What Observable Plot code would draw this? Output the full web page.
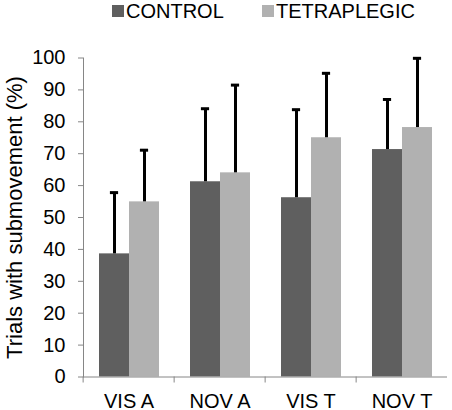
<!DOCTYPE html>
<html>
<head>
<meta charset="utf-8">
<script src="https://cdn.jsdelivr.net/npm/d3@7"></script>
<script src="https://cdn.jsdelivr.net/npm/@observablehq/plot@0.6"></script>
<style>
  body { margin: 0; background: #fff; font-family: "Liberation Sans", Arial, sans-serif; }
  #legend { position: relative; width: 452px; height: 30px; }
  .item { position: absolute; top: -1px; display: flex; align-items: center; font-size: 20px; line-height: 24px; color: #000; white-space: nowrap; }
  .sw { width: 12px; height: 12px; margin-right: 2px; }
</style>
</head>
<body>
<div id="legend"></div>
<div id="chart"></div>
<script>
const categories = ["VIS A", "NOV A", "VIS T", "NOV T"];
const groups = ["CONTROL", "TETRAPLEGIC"];
const controlMeans = [38.6, 61.2, 56.2, 71.3];
const controlSD = [19.2, 22.9, 27.6, 15.7];
const tetraMeans = [54.9, 64.0, 75.0, 78.2];
const tetraSD = [16.2, 27.5, 20.2, 21.7];
const yTicks = [0, 10, 20, 30, 40, 50, 60, 70, 80, 90, 100];
const colors = ["#5f5f5f", "#b1b1b1"];
const yLabel = "Trials with submovement (%)";

const data = categories.flatMap((c, i) => [
  {category: c, group: groups[0], value: controlMeans[i], sd: controlSD[i]},
  {category: c, group: groups[1], value: tetraMeans[i], sd: tetraSD[i]}
]);

// legend
const legend = document.getElementById("legend");
const legendX = [112, 262];
groups.forEach((g, i) => {
  const it = document.createElement("div");
  it.className = "item";
  it.style.left = legendX[i] + "px";
  const sw = document.createElement("span");
  sw.className = "sw";
  sw.style.background = colors[i];
  const tx = document.createElement("span");
  tx.textContent = g;
  it.appendChild(sw);
  it.appendChild(tx);
  legend.appendChild(it);
});

const axisGray = "#868686";
const bandHalf = (452 - 81 - 4) / categories.length / 2;

const chart = Plot.plot({
  width: 452,
  height: 380,
  marginTop: 27.5,
  marginBottom: 33.5,
  marginLeft: 81,
  marginRight: 4,
  style: {fontFamily: "Liberation Sans, Arial, sans-serif", fontSize: "20px", color: "#000", background: "#fff"},
  fx: {domain: categories, padding: 0, label: null, axis: null},
  x: {domain: groups, paddingInner: 0, paddingOuter: 0.49, axis: null},
  y: {domain: [0, 100], label: null, axis: null},
  color: {domain: groups, range: colors},
  marks: [
    Plot.barY(data, {fx: "category", x: "group", y: "value", fill: "group"}),
    Plot.ruleX(data, {fx: "category", x: "group", y1: "value", y2: d => d.value + d.sd, stroke: "#000", strokeWidth: 3}),
    Plot.tickY(data, {fx: "category", x: "group", y: d => d.value + d.sd, stroke: "#000", strokeWidth: 3, inset: 10.9}),
    Plot.ruleY([0], {stroke: axisGray, strokeWidth: 1}),
    Plot.frame({anchor: "left", facetAnchor: "left", stroke: axisGray}),
    Plot.axisY({ticks: yTicks, tickSize: 5, tickPadding: 13, stroke: axisGray, fill: "#000", label: null, fontSize: 20}),
    Plot.text([yLabel], {frameAnchor: "left", facetAnchor: "left", rotate: -90, dx: -77, lineAnchor: "top", textAnchor: "middle", fontSize: 22, fill: "#000"}),
    Plot.axisFx({anchor: "bottom", tickSize: 0, tickPadding: 17, fill: "#000", label: null, fontSize: 20}),
    Plot.axisFx({anchor: "bottom", tickSize: 6, tickFormat: () => "", dx: -bandHalf, stroke: axisGray, label: null})
  ]
});
document.getElementById("chart").appendChild(chart);
</script>
</body>
</html>
